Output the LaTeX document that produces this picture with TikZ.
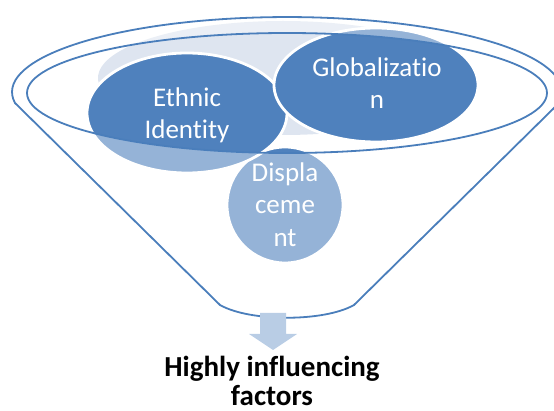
\documentclass[tikz,border=0pt]{standalone}
\usepackage{fontspec}
\setmainfont{Carlito}[Ligatures=NoCommon]
\usetikzlibrary{shapes.geometric}
\definecolor{accent}{HTML}{4F81BD}
\definecolor{rim}{HTML}{4A7EBB}
\definecolor{backfill}{HTML}{DEE5F0}
\definecolor{arrowfill}{HTML}{B9CDE5}
\begin{document}
\begin{tikzpicture}[x=1pt,y=1pt,
  bubble/.style={ellipse, fill=accent, draw=white, line width=2.8pt, inner sep=0pt},
  intext/.style={text=white, font=\fontsize{27}{32}\selectfont, anchor=base, inner sep=0pt},
  outtext/.style={text=black, font=\bfseries\fontsize{29}{30}\selectfont, anchor=base, inner sep=0pt}]
\useasboundingbox (0,0) rectangle (554,-411);
\node[ellipse, fill=backfill, minimum width=370pt, minimum height=114pt, inner sep=0pt] (back) at (283,-78) {};
\node[bubble, minimum width=116pt, minimum height=116pt] (disp) at (285,-205) {};
\node[bubble, minimum width=200pt, minimum height=120pt] (ethnic) at (187,-113) {};
\node[bubble, minimum width=204pt, minimum height=114pt] (glob) at (376,-85) {};
% funnel body with open mouth
\path[draw=rim, line width=1.8pt, fill=white, fill opacity=0.4, even odd rule]
  (15,-103) arc[start angle=188.4, end angle=-8.4, x radius=275pt, y radius=75pt]
  -- (354,-305) .. controls (324,-322) and (250,-322) .. (220,-305) -- cycle
  (287,-93) ellipse[x radius=260pt, y radius=60pt];
% texts
\node[intext] (e1) at (187,-107) {Ethnic};
\node[intext] (e2) at (187,-139) {Identity};
\node[intext] (g1) at (377,-77) {Globalizatio};
\node[intext] (g2) at (377,-109) {n};
\node[intext] (d1) at (285,-182) {Displa};
\node[intext] (d2) at (285,-214) {ceme};
\node[intext] (d3) at (285,-247) {nt};
% arrow
\fill[arrowfill] (260,-313) -- (286,-313) -- (286,-334) -- (297,-334) -- (273,-350) -- (249,-334) -- (260,-334) -- cycle;
\node[outtext] (t1) at (272,-377) {Highly influencing};
\node[outtext] (t2) at (272,-405) {factors};
\end{tikzpicture}
\end{document}
